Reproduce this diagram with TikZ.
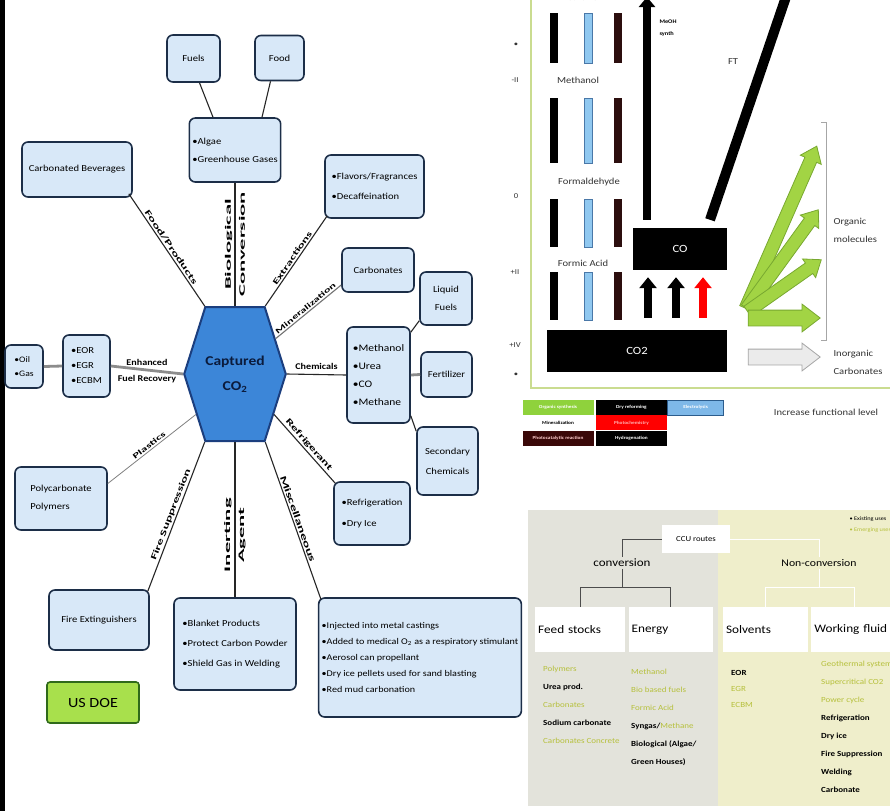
\documentclass[tikz,border=0pt]{standalone}
\usepackage{fontspec}
\setmainfont{Carlito}[FakeStretch=1.15]
\newfontfamily\longfont{Carlito}[FakeStretch=1.7]
\newfontfamily\tallfont{Carlito}[FakeStretch=2.7]
\usetikzlibrary{positioning,shapes.symbols,shapes.arrows,arrows.meta}

\definecolor{boxfill}{HTML}{D8E8F8}
\definecolor{boxline}{HTML}{1C2E48}
\definecolor{hexfill}{HTML}{3C86D8}
\definecolor{hexline}{HTML}{1B3E7E}
\definecolor{hextext}{HTML}{0B1B3C}
\definecolor{doefill}{HTML}{A8E04C}
\definecolor{doeline}{HTML}{2F6A1A}
\definecolor{framegreen}{HTML}{CADC90}
\definecolor{barblue}{HTML}{90C8F0}
\definecolor{barblueline}{HTML}{4A78A8}
\definecolor{barbrown}{HTML}{2C0E0E}
\definecolor{leafgreen}{HTML}{A2D444}
\definecolor{leafline}{HTML}{78A830}
\definecolor{routegreen}{HTML}{B6C03C}
\definecolor{panelgray}{HTML}{E3E3DB}
\definecolor{panelyellow}{HTML}{EFEECB}
\definecolor{legmaroon}{HTML}{3A0808}
\definecolor{legblue}{HTML}{7EB8E8}
\definecolor{legblueline}{HTML}{2C5C8C}
\definecolor{leggreen}{HTML}{8FD23C}

\begin{document}
\begin{tikzpicture}[x=1pt,y=-1pt,
    usebox/.style={rectangle, rounded corners=6pt, draw=boxline, fill=boxfill, line width=1.6pt, inner sep=3pt, align=left, font=\fontsize{9.2}{18}\selectfont},
    link/.style={draw=black!85, line width=1.1pt},
    fatlink/.style={draw=black!45, line width=2.8pt},
    linklabel/.style={font=\fontsize{8.8}{14}\selectfont\bfseries, inner sep=1.5pt},
    longlabel/.style={font=\longfont\bfseries\fontsize{8.4}{10}\selectfont, inner sep=1.5pt},
    talllabel/.style={font=\tallfont\bfseries\fontsize{8.4}{14}\selectfont, inner sep=1pt, rotate=90, align=center},
    chartlabel/.style={font=\fontsize{9.2}{18}\selectfont, text=black!80},
    legcell/.style={rectangle, minimum width=71pt, minimum height=15pt, inner sep=0pt, font=\fontsize{4.6}{5}\selectfont\bfseries},
    uparrow/.style={line width=8pt, -{Triangle[width=17pt,length=11pt]}},
    fanarrow/.style={single arrow, draw=leafline, fill=leafgreen, line width=0.8pt, inner sep=6pt, single arrow head extend=5pt, single arrow tip angle=75},
    routehead/.style={rectangle, fill=white, anchor=north west, minimum height=45pt, inner xsep=3pt, align=left, font=\fontsize{11.5}{14}\selectfont},
    routelist/.style={anchor=north west, inner sep=0pt, align=left, font=\fontsize{7.8}{18}\selectfont},
    treeline/.style={draw=black!70, line width=1pt}
  ]
\useasboundingbox (0,0) rectangle (890,811);
\fill[white] (0,0) rectangle (890,811);
\fill[black] (0,0) rectangle (5,811);

% ---- captured CO2 map (US DOE)
\node[signal, signal to=east and west, signal pointer angle=145, draw=hexline, fill=hexfill, line width=2pt,
      minimum width=100pt, minimum height=134pt, inner sep=0pt, text=hextext, align=center,
      font=\fontsize{13.5}{25}\selectfont\bfseries] (hex) at (235,374) {Captured\\CO\textsubscript{2}};

\node[usebox, minimum width=53pt, minimum height=47pt, align=center] (fuels) at (193.5,58.5) {Fuels};
\node[usebox, minimum width=49pt, minimum height=45pt, align=center] (food) at (279.5,58) {Food};
\node[usebox, minimum width=86pt, minimum height=64pt] (algae) at (235,150) {•Algae\\•Greenhouse Gases};
\node[usebox, minimum width=110pt, minimum height=55pt] (bev) at (77,169.5) {Carbonated Beverages};
\node[usebox, minimum width=99pt, minimum height=63pt, font=\fontsize{9.2}{20}\selectfont] (flavor) at (374.5,186.5) {•Flavors/Fragrances\\•Decaffeination};
\node[usebox, minimum width=72pt, minimum height=44pt] (carb) at (378,270) {Carbonates};
\node[usebox, minimum width=52pt, minimum height=53pt, align=center] (liqfuel) at (446,298.5) {Liquid\\Fuels};
\node[usebox, minimum width=63pt, minimum height=96pt, font=\fontsize{10}{18}\selectfont] (chem) at (378.5,375) {•Methanol\\•Urea\\•CO\\•Methane};
\node[usebox, minimum width=51pt, minimum height=45pt] (fert) at (446.5,374.5) {Fertilizer};
\node[usebox, minimum width=61pt, minimum height=68pt, align=center, font=\fontsize{9.2}{20}\selectfont] (secchem) at (447.5,461) {Secondary\\Chemicals};
\node[usebox, minimum width=76pt, minimum height=63pt, font=\fontsize{9.2}{21}\selectfont] (refrig) at (372,513.5) {•Refrigeration\\•Dry Ice};
\node[usebox, minimum width=47pt, minimum height=62pt, font=\fontsize{9.2}{15}\selectfont] (eor) at (86.5,366) {•EOR\\•EGR\\•ECBM};
\node[usebox, minimum width=38pt, minimum height=43pt, font=\fontsize{8.4}{14}\selectfont] (oil) at (24,366.5) {•Oil\\•Gas};
\node[usebox, minimum width=92pt, minimum height=63pt] (poly) at (61,498.5) {Polycarbonate\\Polymers};
\node[usebox, minimum width=100pt, minimum height=60pt] (fire) at (99,620) {Fire Extinguishers};
\node[usebox, minimum width=122pt, minimum height=92pt, font=\fontsize{9.2}{20}\selectfont] (inert) at (235,644) {•Blanket Products\\•Protect Carbon Powder\\•Shield Gas in Welding};
\node[usebox, minimum width=196pt, minimum height=119pt, font=\fontsize{8.8}{16}\selectfont] (misc) at (420,657.5) {•Injected into metal castings\\•Added to medical O\textsubscript{2} as a respiratory stimulant\\•Aerosol can propellant\\•Dry ice pellets used for sand blasting\\•Red mud carbonation};
\node[rectangle, rounded corners=3pt, draw=doeline, fill=doefill, line width=1.6pt, minimum width=92pt, minimum height=41pt, font=\fontsize{14}{16}\selectfont] (doe) at (93,702.5) {US DOE};

\draw[link] ([xshift=6pt]fuels.south) -- ([xshift=-22pt]algae.north);
\draw[link] ([xshift=-9pt]food.south) -- ([xshift=27pt]algae.north);
\draw[link] (hex.north) -- node[talllabel] {Biological\\Conversion} (algae.south);
\draw[link] ([shift={(-4pt,4pt)}]bev.south east) -- node[longlabel, sloped, above] {Food/Products} (hex.114);
\draw[link] (hex.66) -- node[longlabel, sloped, above, font=\longfont\bfseries\fontsize{8.1}{10}\selectfont] {Extractions} ([shift={(3pt,3pt)}]flavor.south west);
\draw[link, draw=black!55] (hex.41) -- node[longlabel, sloped, above, font=\longfont\bfseries\fontsize{7.4}{10}\selectfont] {Mineralization} ([yshift=-15pt]carb.west);
\draw[link] (hex.east) -- node[linklabel, above=3pt] {Chemicals} (chem.west);
\draw[link] ([yshift=-6pt]chem.north east) -- ([yshift=5pt]liqfuel.south west);
\draw[fatlink] (chem.east) -- (fert.west);
\draw[link] ([yshift=8pt]chem.south east) -- ([yshift=-5pt]secchem.north west);
\draw[link] (hex.-46) -- node[longlabel, sloped, above] {Refrigerant} ([shift={(2pt,-2pt)}]refrig.north west);
\draw[link] (hex.-66) -- node[longlabel, sloped, above, font=\longfont\bfseries\fontsize{9}{10}\selectfont] {Miscellaneous} ([shift={(3pt,-2pt)}]misc.north west);
\draw[link] (hex.south) -- node[talllabel, pos=0.6] {Inerting\\Agent} (inert.north);
\draw[link] ([shift={(-2pt,-2pt)}]fire.north east) -- node[longlabel, sloped, above] {Fire Suppression} (hex.-114);
\draw[link, draw=black!50, line width=0.8pt] ([yshift=15pt]poly.east) -- node[longlabel, sloped, above, font=\longfont\bfseries\fontsize{7.6}{10}\selectfont] {Plastics} (hex.-134);
\draw[fatlink] (eor.east) -- node[linklabel, above=2pt] {Enhanced} node[linklabel, below=2pt] {Fuel Recovery} (hex.west);
\draw[fatlink] (oil.east) -- (eor.west);

% ---- oxidation level chart
\draw[framegreen, line width=1.5pt] (531,-5) -- (531,388) -- (895,388);

\node[chartlabel, font=\fontsize{7.5}{9}\selectfont] (ox0) at (515,-2) {-IV};
\node[chartlabel, font=\fontsize{7.5}{9}\selectfont] (ox1) at (516,45) {•};
\node[chartlabel, font=\fontsize{7.5}{9}\selectfont] (ox2) at (515,80) {-II};
\node[chartlabel, font=\fontsize{7.5}{9}\selectfont] (ox3) at (516,196) {0};
\node[chartlabel, font=\fontsize{7.5}{9}\selectfont] (ox4) at (515,272) {+II};
\node[chartlabel, font=\fontsize{7.5}{9}\selectfont] (ox5) at (515,345) {+IV};
\node[chartlabel, font=\fontsize{7.5}{9}\selectfont] (ox6) at (516,375) {•};

\fill[black] (550,13) rectangle (558,63);
\fill[black] (550,98) rectangle (558,163);
\fill[black] (550,199) rectangle (558,247);
\fill[black] (550,272) rectangle (558,320);
\filldraw[fill=barblue, draw=barblueline, line width=0.6pt] (584,13) rectangle (592,63);
\filldraw[fill=barblue, draw=barblueline, line width=0.6pt] (584,98) rectangle (592,163);
\filldraw[fill=barblue, draw=barblueline, line width=0.6pt] (584,199) rectangle (592,247);
\filldraw[fill=barblue, draw=barblueline, line width=0.6pt] (584,272) rectangle (592,320);
\fill[barbrown] (614,13) rectangle (622,63);
\fill[barbrown] (614,98) rectangle (622,163);
\fill[barbrown] (614,199) rectangle (622,247);
\fill[barbrown] (614,272) rectangle (622,320);

\node[chartlabel] (methane) at (578,-3) {Methane};
\node[chartlabel] (methanol) at (578,80) {Methanol};
\node[chartlabel] (formald) at (589,182) {Formaldehyde};
\node[chartlabel] (formic) at (583,263) {Formic Acid};

\node[fill=black, text=white, minimum width=94pt, minimum height=42pt, font=\fontsize{11}{12}\selectfont] (co) at (680,249) {CO};
\node[fill=black, text=white, minimum width=180pt, minimum height=42pt, font=\fontsize{11}{12}\selectfont] (co2) at (637,351) {CO2};

\draw[uparrow] ([xshift=11pt,yshift=12pt]co2.north) -- ([xshift=-32pt,yshift=-7pt]co.south);
\draw[uparrow] ([xshift=39pt,yshift=12pt]co2.north) -- ([xshift=-4pt,yshift=-7pt]co.south);
\draw[uparrow, red] ([xshift=66pt,yshift=12pt]co2.north) -- ([xshift=23pt,yshift=-7pt]co.south);

\coordinate (synthtop) at (647,-3);
\coordinate (fttop) at (789,-12);
\draw[line width=8pt, -{Triangle[width=16pt,length=10pt]}] ([xshift=-33pt,yshift=8pt]co.north) -- (synthtop);
\draw[line width=10pt] ([xshift=30pt,yshift=8pt]co.north) -- (fttop);
\node[font=\fontsize{5.5}{12}\selectfont\bfseries, align=left] (synth) at (668,28) {MeOH\\synth};
\node[chartlabel] (ft) at (733,62) {FT};

\node[fanarrow, rotate=66.3, minimum height=177pt] (g1) at (779.5,231) {};
\node[fanarrow, rotate=54, minimum height=122pt] (g2) at (780,262.5) {};
\node[fanarrow, rotate=35.1, minimum height=90pt] (g3) at (781,288) {};
\node[fanarrow, minimum height=72pt, inner sep=7.5pt, single arrow head extend=6pt] (g4) at (779,318) {};
\node[fanarrow, draw=black!35, fill=black!8, minimum height=72pt, inner sep=7.5pt, single arrow head extend=6pt] (g5) at (779,357) {};
\draw[black!35, line width=0.8pt] (821,122) -- (826,122) -- (826,340) -- (821,340);
\node[chartlabel, anchor=west, align=left] (organic) at (830,230) {Organic\\molecules};
\node[chartlabel, anchor=west, align=left] (inorganic) at (830,362) {Inorganic\\Carbonates};

\node[legcell, fill=leggreen, text=white] (lg1) at (558,407.5) {Organic synthesis};
\node[legcell, fill=black, text=white, right=2pt of lg1] (lg2) {Dry reforming};
\node[legcell, fill=legblue, draw=legblueline, line width=1pt, text=white, minimum width=56pt, right=0pt of lg2] (lg3) {Electrolysis};
\node[legcell, fill=white, below=0pt of lg1] (lg4) {Mineralization};
\node[legcell, fill=red, text=red!30, below=0pt of lg2] (lg5) {Photochemistry};
\node[legcell, fill=legmaroon, text=red!20, below=0pt of lg4] (lg6) {Photocatalytic reaction};
\node[legcell, fill=black, text=white, below=0pt of lg5] (lg7) {Hydrogenation};
\node[chartlabel] (incr) at (826,412) {Increase functional level};

% ---- CCU routes
\fill[panelgray] (528,510) rectangle (718,806);
\fill[panelyellow] (718,510) rectangle (890,806);

\node[fill=white, minimum width=68pt, minimum height=28pt, font=\fontsize{7.6}{9}\selectfont] (ccu) at (696,539) {CCU routes};
\node[font=\fontsize{11.3}{13}\selectfont, inner sep=2pt] (conv) at (622,563) {conversion};
\node[font=\fontsize{10.2}{13}\selectfont, inner sep=2pt] (nonconv) at (819,563) {Non-conversion};
\node[anchor=west, font=\fontsize{5.5}{7}\selectfont] (exist) at (846,519) {• Existing uses};
\node[anchor=west, font=\fontsize{5.5}{7}\selectfont, text=routegreen] (emerg) at (846,530) {• Emerging uses};

\node[routehead, text width=84pt] (feed) at (535,607) {Feed stocks};
\node[routehead, text width=78pt, right=3pt of feed] (energy) {Energy};
\node[routehead, text width=79pt, right=10pt of energy] (solv) {Solvents};
\node[routehead, text width=80pt, right=3pt of solv] (work) {Working fluid};

\draw[treeline] (ccu.west) -| (conv.north);
\draw[treeline] (conv.south) |- ([yshift=20pt]feed.north) -- (feed.north);
\draw[treeline] (conv.south) |- ([yshift=20pt]energy.north) -- (energy.north);
\draw[white, line width=1pt] (ccu.east) -| (nonconv.north);
\draw[white, line width=1pt] (nonconv.south) |- ([yshift=20pt]solv.north) -- (solv.north);
\draw[white, line width=1pt] (nonconv.south) |- ([yshift=20pt]work.north) -- (work.north);

\node[routelist] (feedlist) at (543,666) {{\color{routegreen}Polymers}\\{\bfseries Urea prod.}\\{\color{routegreen}Carbonates}\\{\bfseries Sodium carbonate}\\{\color{routegreen}Carbonates Concrete}};
\node[routelist] (energylist) at (631,669) {{\color{routegreen}Methanol}\\{\color{routegreen}Bio based fuels}\\{\color{routegreen}Formic Acid}\\{\bfseries Syngas/}{\color{routegreen}Methane}\\{\bfseries Biological (Algae/}\\{\bfseries Green Houses)}};
\node[routelist, font=\fontsize{7.8}{16}\selectfont] (solvlist) at (731,670) {{\bfseries EOR}\\{\color{routegreen}EGR}\\{\color{routegreen}ECBM}};
\node[routelist] (worklist) at (821,661) {{\color{routegreen}Geothermal systems}\\{\color{routegreen}Supercritical CO2}\\{\color{routegreen}Power cycle}\\{\bfseries Refrigeration}\\{\bfseries Dry ice}\\{\bfseries Fire Suppression}\\{\bfseries Welding}\\{\bfseries Carbonate}};
\end{tikzpicture}
\end{document}
